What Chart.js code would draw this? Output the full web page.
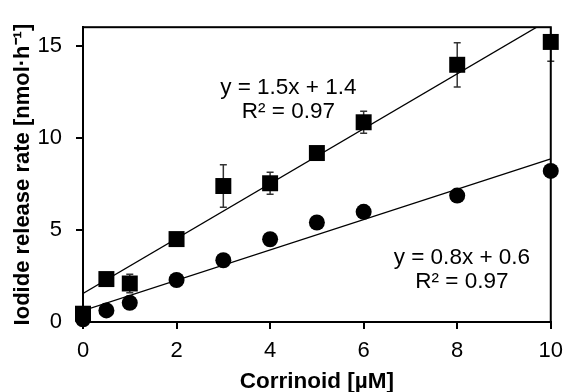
<!DOCTYPE html>
<html>
<head>
<meta charset="utf-8">
<script src="https://cdn.jsdelivr.net/npm/chart.js@4"></script>
<style>
    html, body { margin: 0; padding: 0; background: #fff; }
    #wrap { width: 572px; height: 392px; }
</style>
</head>
<body>
<div id="wrap"><canvas id="rateChart"></canvas></div>
<script>
// ===== DATA =====
const conc = [0, 0.5, 1, 2, 3, 4, 5, 6, 8, 10];
const squareRate = [0.45, 2.33, 2.09, 4.5, 7.38, 7.53, 9.17, 10.84, 13.96, 15.2];
const squareErr = [0.1, 0.15, 0.5, 0.15, 1.15, 0.6, 0.2, 0.6, 1.2, 1.05];
const circleRate = [0.15, 0.63, 1.04, 2.28, 3.35, 4.49, 5.4, 5.98, 6.86, 8.2];

// Fitted lines (end points)
const fitX = [0, 10];
const squareFitY = [1.55, 16.45];
const circleFitY = [0.62, 8.85];

const xTicks = [0, 2, 4, 6, 8, 10];
const yTicks = [0, 5, 10, 15];

const FONT = '"Liberation Sans", Arial, sans-serif';

const toPoints = (xs, ys) => xs.map((x, i) => ({ x: x, y: ys[i] }));

// Error bars drawn through the chart scales (behind the markers)
const errorBars = {
    id: 'errorBars',
    beforeDatasetsDraw(chart) {
        const ctx = chart.ctx;
        const xs = chart.scales.x;
        const ys = chart.scales.y;
        const area = chart.chartArea;
        ctx.save();
        ctx.beginPath();
        ctx.rect(area.left - 10, area.top, area.right - area.left + 20, area.bottom - area.top);
        ctx.clip();
        ctx.strokeStyle = '#333';
        ctx.lineWidth = 1.5;
        conc.forEach((c, i) => {
            const px = xs.getPixelForValue(c);
            const top = ys.getPixelForValue(squareRate[i] + squareErr[i]);
            const bot = ys.getPixelForValue(squareRate[i] - squareErr[i]);
            ctx.beginPath();
            ctx.moveTo(px, top); ctx.lineTo(px, bot);
            ctx.moveTo(px - 3.5, top); ctx.lineTo(px + 3.5, top);
            ctx.moveTo(px - 3.5, bot); ctx.lineTo(px + 3.5, bot);
            ctx.stroke();
        });
        ctx.restore();
    }
};

// Frame around plot area + fit equations
const frameAndLabels = {
    id: 'frameAndLabels',
    afterDraw(chart) {
        const ctx = chart.ctx;
        const a = chart.chartArea;
        const xs = chart.scales.x;
        const ys = chart.scales.y;
        ctx.save();
        ctx.strokeStyle = '#000';
        ctx.lineWidth = 2;
        ctx.strokeRect(a.left, a.top, a.right - a.left, a.bottom - a.top);

        ctx.fillStyle = '#000';
        ctx.font = '22.5px ' + FONT;
        ctx.textAlign = 'center';
        ctx.textBaseline = 'middle';
        const labels = [
            { x: 4.39, y: 12.7, t: 'y = 1.5x + 1.4' },
            { x: 4.39, y: 11.4, t: 'R² = 0.97' },
            { x: 8.1, y: 3.47, t: 'y = 0.8x + 0.6' },
            { x: 8.1, y: 2.16, t: 'R² = 0.97' }
        ];
        labels.forEach(l => {
            ctx.fillText(l.t, xs.getPixelForValue(l.x), ys.getPixelForValue(l.y));
        });
        ctx.restore();
    }
};

const ctx = document.getElementById('rateChart');
new Chart(ctx, {
    type: 'scatter',
    data: {
        datasets: [
            {
                label: 'fit squares',
                data: toPoints(fitX, squareFitY),
                showLine: true,
                borderColor: '#000',
                borderWidth: 1.3,
                pointRadius: 0
            },
            {
                label: 'fit circles',
                data: toPoints(fitX, circleFitY),
                showLine: true,
                borderColor: '#000',
                borderWidth: 1.3,
                pointRadius: 0
            },
            {
                label: 'circles',
                data: toPoints(conc, circleRate),
                pointStyle: 'circle',
                pointRadius: 8,
                pointBorderWidth: 0,
                backgroundColor: '#000',
                borderColor: '#000',
                clip: false
            },
            {
                label: 'squares',
                data: toPoints(conc, squareRate),
                pointStyle: 'rect',
                pointRadius: 11.3,
                pointBorderWidth: 0,
                backgroundColor: '#000',
                borderColor: '#000',
                clip: false
            }
        ]
    },
    options: {
        responsive: true,
        maintainAspectRatio: false,
        animation: false,
        layout: {
            padding: { left: 0, top: 17, right: 15, bottom: 0 }
        },
        plugins: {
            legend: { display: false },
            tooltip: { enabled: false }
        },
        scales: {
            x: {
                type: 'linear',
                min: 0,
                max: 10,
                afterFit: s => { s.height = 70; },
                afterBuildTicks: s => { s.ticks = xTicks.map(v => ({ value: v })); },
                grid: { drawOnChartArea: false, tickLength: 7, color: '#000', lineWidth: 2 },
                border: { color: '#000', width: 2 },
                ticks: { color: '#000', padding: 9, font: { family: FONT, size: 22 } },
                title: {
                    display: true,
                    text: 'Corrinoid [µM]',
                    color: '#000',
                    padding: { top: 0, bottom: -1 },
                    font: { family: FONT, size: 22.5, weight: 'bold', lineHeight: 1 }
                }
            },
            y: {
                type: 'linear',
                min: 0,
                max: 16,
                afterFit: s => { s.width = 83; },
                afterBuildTicks: s => { s.ticks = yTicks.map(v => ({ value: v })); },
                grid: { drawOnChartArea: false, tickLength: 7, color: '#000', lineWidth: 2 },
                border: { color: '#000', width: 2 },
                ticks: { color: '#000', padding: 14, font: { family: FONT, size: 22 } },
                title: {
                    display: true,
                    text: 'Iodide release rate [nmol·h⁻¹]',
                    color: '#000',
                    padding: { top: 12, bottom: 0 },
                    font: { family: FONT, size: 22, weight: 'bold', lineHeight: 1 }
                }
            }
        }
    },
    plugins: [errorBars, frameAndLabels]
});
</script>
</body>
</html>
